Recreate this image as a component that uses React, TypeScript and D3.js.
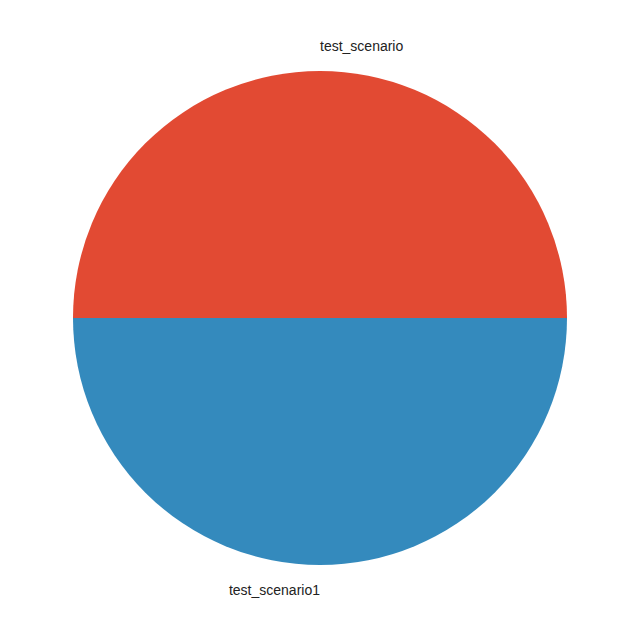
import { useEffect, useRef } from 'react'
import * as d3 from 'd3'

// Slice data (two equal shares)
const labels = ['test_scenario', 'test_scenario1']
const values = [1, 1]
const colors = ['#E24A33', '#348ABD']

const WIDTH = 640
const HEIGHT = 636

function PieChart() {
  const svgRef = useRef<SVGSVGElement | null>(null)

  useEffect(() => {
    if (!svgRef.current) return
    const svg = d3.select(svgRef.current)
    svg.selectAll('*').remove()

    const cx = 320
    const cy = 318
    const radius = 247

    // matplotlib draws counter-clockwise from 3 o'clock
    const pie = d3.pie<number>()
      .sort(null)
      .value(d => d)
      .startAngle(Math.PI / 2)
      .endAngle(Math.PI / 2 - 2 * Math.PI)

    const arcs = pie(values)
    const arc = d3.arc<d3.PieArcDatum<number>>()
      .innerRadius(0)
      .outerRadius(radius)

    const g = svg.append('g').attr('transform', `translate(${cx},${cy})`)

    g.selectAll('path')
      .data(arcs)
      .enter()
      .append('path')
      .attr('d', arc)
      .attr('fill', (_, i) => colors[i])

    // labels at 1.1 * radius, aligned like matplotlib
    g.selectAll('text')
      .data(arcs)
      .enter()
      .append('text')
      .attr('x', d => {
        const a = (d.startAngle + d.endAngle) / 2
        return Math.sin(a) * radius * 1.1
      })
      .attr('y', d => {
        const a = (d.startAngle + d.endAngle) / 2
        return -Math.cos(a) * radius * 1.1
      })
      .attr('dy', '0.35em')
      .attr('text-anchor', d => {
        const a = (d.startAngle + d.endAngle) / 2
        const thetaM = (90 - (a * 180) / Math.PI) * Math.PI / 180
        return Math.cos(thetaM) > 0 ? 'start' : 'end'
      })
      .style('font-family', '"Liberation Sans", Arial, sans-serif')
      .style('font-size', '14px')
      .style('fill', '#222')
      .text((_, i) => labels[i])
  }, [])

  return <svg ref={svgRef} width={WIDTH} height={HEIGHT} style={{ display: 'block' }} />
}

export default function App() {
  return (
    <div style={{ position: 'absolute', left: 0, top: 0, background: 'white' }}>
      <PieChart />
    </div>
  )
}
